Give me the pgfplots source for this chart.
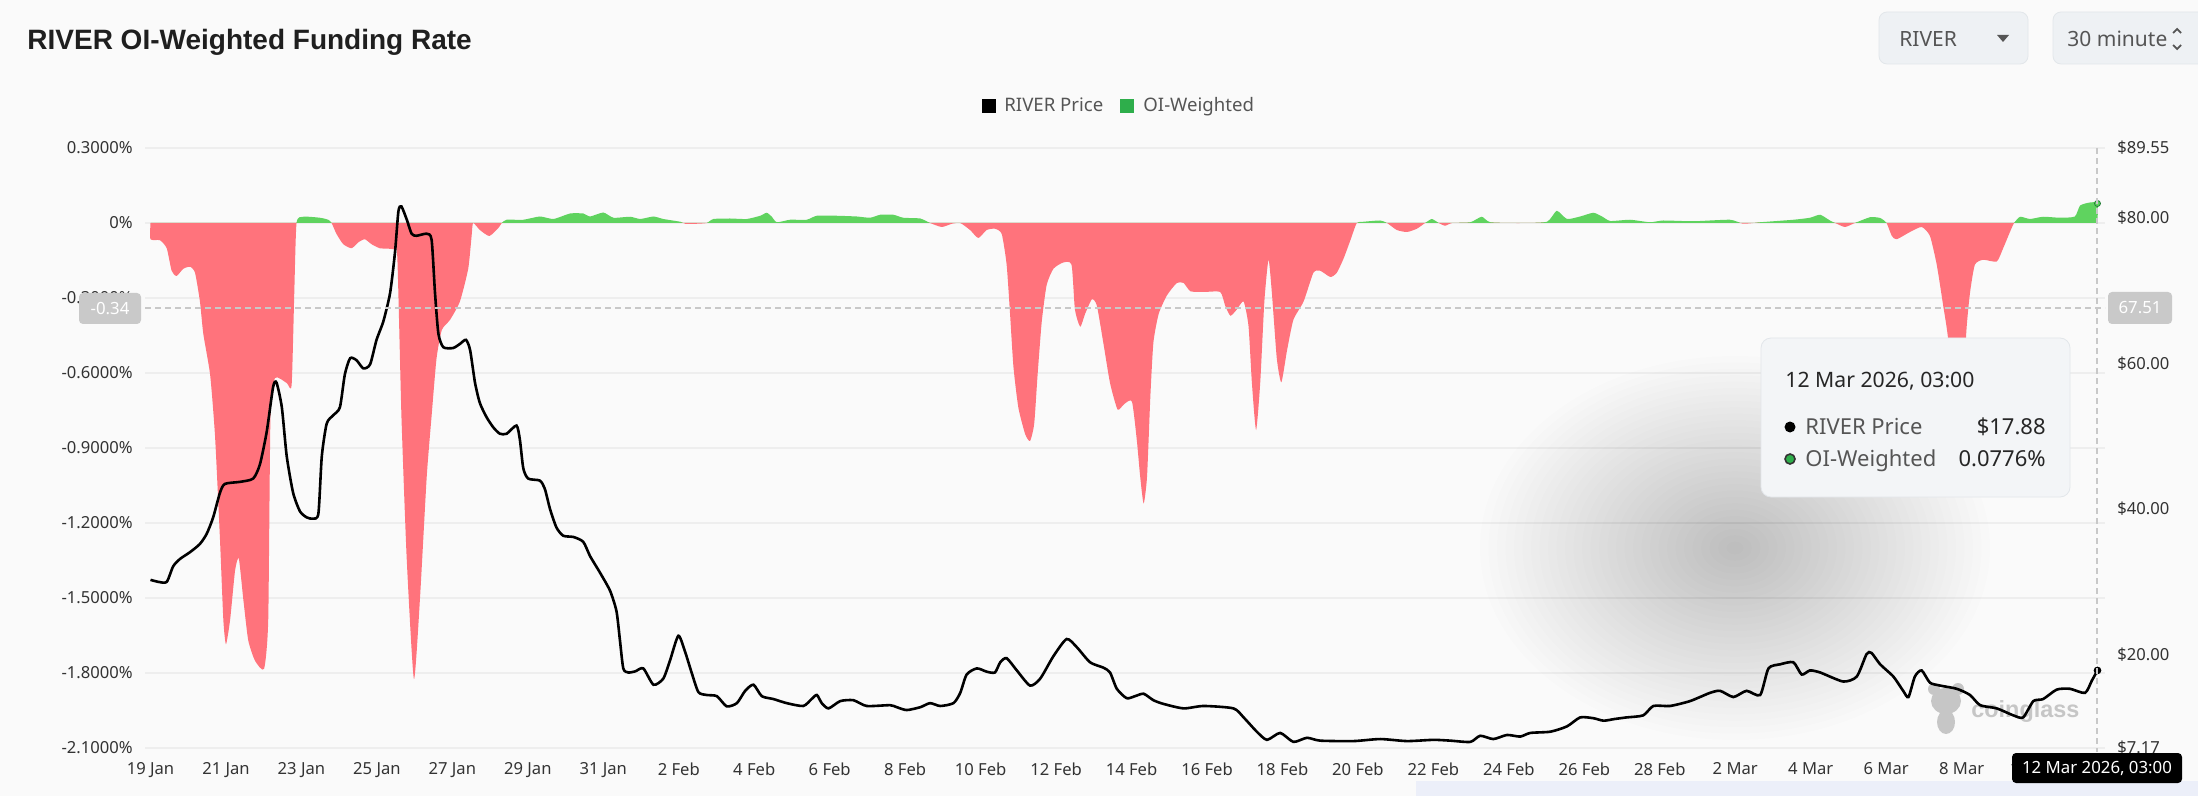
\documentclass[border=0pt]{standalone}
\usepackage{fontspec}
\setmainfont{Noto Sans}
\newfontfamily\boldsans{Liberation Sans}
\usepackage{pgfplots}
\pgfplotsset{compat=1.18}
\usepackage{pgfplotstable}

\definecolor{bgcol}{HTML}{FAFAFA}
\definecolor{gridcol}{HTML}{EEEEEE}
\definecolor{tickcol}{HTML}{333333}
\definecolor{fundred}{HTML}{FF737C}
\definecolor{fundgreen}{HTML}{5FD35F}
\definecolor{leggreen}{HTML}{2EAE4B}
\definecolor{legtext}{HTML}{555555}
\definecolor{boxfill}{HTML}{EEF1F4}
\definecolor{boxline}{HTML}{E2E6EA}
\definecolor{crossgray}{HTML}{C8C8C8}
\definecolor{markgray}{HTML}{C9C9C9}
\definecolor{wmark}{HTML}{C6C6C6}
\definecolor{bandcol}{HTML}{ECEFF9}

% day offset from 19 Jan, OI-weighted funding rate in %
\pgfplotstableread{
d f
0 0
0 -0.065
0.25 -0.069
0.43 -0.101
0.56 -0.191
0.69 -0.212
0.87 -0.183
1.05 -0.175
1.18 -0.199
1.31 -0.314
1.40 -0.444
1.58 -0.607
1.71 -0.852
1.84 -1.261
1.93 -1.587
2.00 -1.685
2.11 -1.587
2.24 -1.391
2.34 -1.342
2.46 -1.506
2.59 -1.669
2.77 -1.751
3.01 -1.783
3.12 -1.587
3.18 -0.771
3.30 -0.620
3.61 -0.640
3.74 -0.648
3.81 -0.281
3.87 0
4.05 0.025
4.49 0.021
4.71 0.013
4.80 0
4.93 -0.044
5.11 -0.085
5.33 -0.101
5.51 -0.077
5.68 -0.065
5.86 -0.085
6.08 -0.101
6.43 -0.105
6.54 -0.134
6.65 -0.771
6.79 -1.342
6.98 -1.824
7.14 -1.506
7.32 -1.016
7.45 -0.771
7.58 -0.542
7.72 -0.428
7.94 -0.387
8.20 -0.314
8.42 -0.183
8.51 -0.052
8.55 0
8.73 -0.028
8.98 -0.052
9.22 -0.020
9.31 0
9.44 0.013
9.88 0.013
10.32 0.026
10.68 0.016
11.12 0.038
11.47 0.038
11.65 0.026
12.00 0.042
12.27 0.021
12.71 0.025
12.98 0.016
13.33 0.026
13.59 0.016
14.04 0.005
14.17 -0.003
14.48 -0.003
14.74 0
14.92 0.016
15.36 0.018
15.80 0.016
16.16 0.029
16.33 0.041
16.46 0.026
16.60 0.003
16.95 0.013
17.39 0.013
17.66 0.029
18.19 0.029
18.72 0.026
19.07 0.021
19.34 0.033
19.69 0.033
19.95 0.021
20.40 0.018
20.66 0
20.97 -0.016
21.24 -0.003
21.46 0
21.72 -0.028
21.94 -0.060
22.16 -0.028
22.38 -0.023
22.56 -0.044
22.69 -0.167
22.78 -0.363
22.87 -0.575
23.00 -0.738
23.18 -0.844
23.31 -0.872
23.42 -0.803
23.51 -0.607
23.62 -0.395
23.75 -0.248
23.93 -0.183
24.19 -0.158
24.41 -0.167
24.50 -0.346
24.64 -0.415
24.77 -0.363
24.95 -0.305
25.08 -0.330
25.25 -0.477
25.43 -0.640
25.63 -0.746
25.80 -0.725
26.01 -0.714
26.14 -0.869
26.23 -1.016
26.32 -1.122
26.41 -1.016
26.50 -0.689
26.58 -0.477
26.72 -0.363
26.94 -0.289
27.20 -0.240
27.38 -0.240
27.56 -0.273
27.91 -0.276
28.35 -0.276
28.48 -0.330
28.62 -0.371
28.79 -0.346
28.97 -0.314
29.10 -0.412
29.19 -0.640
29.30 -0.828
29.41 -0.640
29.52 -0.314
29.63 -0.147
29.72 -0.281
29.85 -0.542
29.97 -0.637
30.12 -0.510
30.29 -0.387
30.56 -0.314
30.82 -0.199
31.00 -0.191
31.27 -0.216
31.44 -0.199
31.62 -0.142
31.80 -0.069
31.97 0
32.15 0.005
32.59 0.010
32.77 0
33.03 -0.028
33.30 -0.036
33.56 -0.023
33.78 0
33.96 0.016
34.14 0
34.31 -0.011
34.49 0
34.98 0.003
35.28 0.025
35.51 0.003
36.30 0
37.01 0.005
37.27 0.049
37.54 0.016
37.89 0.026
38.24 0.041
38.47 0.026
38.69 0.008
39.21 0.013
39.74 0.003
40.09 0.010
40.89 0.007
41.86 0.013
42.21 -0.003
42.66 0.003
43.54 0.013
43.98 0.021
44.25 0.033
44.51 0.010
44.69 -0.003
44.91 -0.016
45.17 0
45.57 0.023
45.84 0.020
46.01 0
46.15 -0.052
46.28 -0.065
46.63 -0.036
46.94 -0.016
47.16 -0.052
47.34 -0.167
47.51 -0.330
47.65 -0.477
47.80 -0.850
47.90 -1.000
48.02 -0.800
48.12 -0.444
48.22 -0.281
48.35 -0.167
48.57 -0.147
48.93 -0.154
49.10 -0.101
49.28 -0.036
49.39 0
49.55 0.025
49.81 0.016
50.16 0.025
50.61 0.021
51.00 0.026
51.14 0.070
51.40 0.082
51.60 0.078
51.60 0
}\funding

% day offset from 19 Jan, RIVER price in $
\pgfplotstableread{
d p
0 30.26
0.21 29.98
0.43 29.98
0.60 32.11
0.78 33.12
1.05 34.07
1.31 35.19
1.49 36.59
1.66 38.83
1.84 42.20
1.97 43.43
2.37 43.71
2.72 44.16
2.90 46.12
3.08 50.60
3.25 56.76
3.34 57.33
3.48 53.96
3.61 47.24
3.78 42.20
3.96 39.67
4.14 38.83
4.31 38.66
4.45 39.39
4.54 47.24
4.67 51.72
4.84 52.84
5.02 53.96
5.15 58.45
5.29 60.69
5.46 60.41
5.64 59.29
5.82 59.85
5.99 63.21
6.17 65.73
6.35 69.65
6.48 75.26
6.57 80.86
6.65 81.53
6.79 79.74
6.92 77.78
7.05 77.50
7.32 77.78
7.45 76.94
7.54 69.65
7.63 64.05
7.76 62.20
8.02 62.09
8.20 62.65
8.36 63.21
8.47 61.81
8.60 57.33
8.73 54.52
8.91 52.56
9.09 51.16
9.26 50.32
9.44 50.32
9.70 51.44
9.79 49.48
9.88 45.56
10.01 44.16
10.32 43.88
10.45 42.76
10.59 39.95
10.76 37.43
10.94 36.31
11.21 36.14
11.47 35.47
11.65 33.51
11.91 31.27
12.18 28.75
12.35 25.94
12.44 22.02
12.53 18.10
12.66 17.54
12.85 17.70
13.06 18.10
13.33 15.86
13.59 16.70
13.77 19.22
13.99 22.58
14.17 20.34
14.34 17.54
14.52 14.85
14.74 14.45
15.01 14.29
15.27 12.89
15.54 13.33
15.76 15.02
15.98 15.86
16.20 14.29
16.51 13.89
16.86 13.33
17.30 12.94
17.52 13.89
17.66 14.45
17.79 13.33
17.97 12.61
18.28 13.61
18.63 13.73
18.98 12.94
19.60 13.05
19.78 12.77
20.04 12.38
20.40 12.77
20.66 13.33
20.93 12.94
21.28 13.33
21.46 14.74
21.63 17.26
21.90 18.10
22.16 17.65
22.38 17.54
22.52 18.94
22.69 19.50
22.96 17.82
23.31 15.74
23.58 16.70
23.93 19.78
24.28 22.13
24.55 21.01
24.90 18.94
25.25 18.21
25.43 17.54
25.61 15.30
25.87 14.01
26.10 14.30
26.32 14.62
26.58 13.73
26.85 13.22
27.38 12.61
27.91 12.94
28.70 12.61
28.97 11.37
29.32 9.41
29.59 8.29
29.94 9.24
30.29 8.01
30.65 8.57
31.00 8.18
31.88 8.12
32.59 8.40
33.30 8.12
34.00 8.29
34.45 8.18
34.98 8.01
35.24 8.85
35.59 8.40
35.95 8.96
36.30 8.74
36.57 9.24
37.10 9.41
37.54 10.14
37.89 11.37
38.24 11.26
38.51 10.92
38.80 11.15
39.12 11.37
39.56 11.65
39.83 12.94
40.27 12.94
40.80 13.61
41.33 14.74
41.60 15.02
41.95 14.17
42.30 15.02
42.66 14.45
42.88 18.10
43.19 18.66
43.54 18.94
43.76 17.26
43.98 17.82
44.25 17.54
44.86 16.30
45.22 16.98
45.48 20.06
45.61 20.23
45.84 18.66
46.19 16.98
46.45 15.02
46.59 14.17
46.76 16.98
46.94 17.82
47.16 16.14
47.43 15.74
47.87 15.30
48.22 14.45
48.49 13.05
48.93 12.61
49.37 11.65
49.63 11.37
49.90 13.61
50.16 13.89
50.52 15.19
50.87 15.30
51.27 14.74
51.45 16.42
51.60 17.82
}\price

\begin{document}
\begin{tikzpicture}[x=0.5pt,y=-0.5pt]
\path[use as bounding box] (0,0) rectangle (2198,796);
\clip (0,0) rectangle (2198,796);
\fill[bgcol] (0,0) rectangle (2198,796);
\fill[bandcol] (1416,781) rectangle (2198,796);

% title
\node[anchor=base west, inner sep=0pt, text=black!88, font=\boldsans\fontsize{14}{16}\selectfont\bfseries]
  at (27,50) {RIVER OI-Weighted Funding Rate};

% controls top right
\draw[boxline, fill=boxfill, rounded corners=4pt] (1879,12) rectangle (2028,64);
\node[anchor=west, inner sep=0pt, text=legtext, font=\fontsize{10.5}{12}\selectfont] at (1899,39) {RIVER};
\fill[legtext] (1997,35) -- (2009,35) -- (2003,42) -- cycle;
\draw[boxline, fill=boxfill, rounded corners=4pt] (2053,12) rectangle (2215,64);
\node[anchor=west, inner sep=0pt, text=legtext, font=\fontsize{10.5}{12}\selectfont] at (2067,39) {30 minute};
\draw[legtext, line width=0.9pt] (2173,33) -- (2177,29) -- (2181,33);
\draw[legtext, line width=0.9pt] (2173,45) -- (2177,49) -- (2181,45);

% legend
\fill[black] (982,99) rectangle (996,113);
\node[anchor=base west, inner sep=0pt, text=legtext, font=\fontsize{9.3}{11}\selectfont] at (1004,112) {RIVER Price};
\fill[leggreen] (1120,99) rectangle (1134,113);
\node[anchor=base west, inner sep=0pt, text=legtext, font=\fontsize{9.3}{11}\selectfont] at (1143,112) {OI-Weighted};

% funding rate axis (left)
\begin{axis}[
  at={(72.5pt,-74pt)}, anchor=north west,
  scale only axis, width=980pt, height=300pt,
  xmin=-0.146, xmax=51.80, ymin=-2.1, ymax=0.3,
  axis line style={draw=none}, major tick length=0pt,
  xtick={0,2,...,50},
  xticklabels={19 Jan,21 Jan,23 Jan,25 Jan,27 Jan,29 Jan,31 Jan,2 Feb,4 Feb,6 Feb,8 Feb,10 Feb,12 Feb,14 Feb,16 Feb,18 Feb,20 Feb,22 Feb,24 Feb,26 Feb,28 Feb,2 Mar,4 Mar,6 Mar,8 Mar,10 Mar},
  ytick={-2.1,-1.8,-1.5,-1.2,-0.9,-0.6,-0.3,0,0.3},
  yticklabels={-2.1000\%,-1.8000\%,-1.5000\%,-1.2000\%,-0.9000\%,-0.6000\%,-0.3000\%,0\%,0.3000\%},
  ymajorgrids, grid style={draw=gridcol, line width=0.6pt},
  ticklabel style={font=\fontsize{8.3}{10}\selectfont, text=tickcol, inner sep=0pt},
  xticklabel shift=7pt, yticklabel shift=6pt,
]
\begin{scope}
  \clip (axis cs:-1,0) rectangle (axis cs:53,-2.5);
  \addplot[draw=none, fill=fundred, smooth, tension=0.35] table[x=d, y=f] {\funding};
\end{scope}
\begin{scope}
  \clip (axis cs:-1,0) rectangle (axis cs:53,0.5);
  \addplot[draw=none, fill=fundgreen, smooth, tension=0.35] table[x=d, y=f] {\funding};
\end{scope}
\addplot[only marks, mark=*, mark size=1.5pt, mark options={fill=fundgreen, draw=leggreen!70!black}]
  coordinates {(51.6,0.078)};
\end{axis}

% watermark
\fill[wmark] (1946,701) ellipse (15 and 13);
\fill[wmark] (1934,689) circle (6);
\fill[wmark] (1958,689) circle (6);
\fill[wmark] (1946,722) ellipse (9 and 12);
\node[anchor=west, inner sep=0pt, text=wmark, font=\boldsans\fontsize{11.7}{13}\selectfont\bfseries] at (1971,711) {coinglass};

% price axis (right)
\begin{axis}[
  at={(72.5pt,-74pt)}, anchor=north west,
  scale only axis, width=980pt, height=300pt,
  xmin=-0.146, xmax=51.80, ymin=7.17, ymax=89.55,
  hide x axis, axis line style={draw=none}, major tick length=0pt,
  yticklabel pos=right,
  ytick={7.17,20,40,60,80,89.55},
  yticklabels={\$7.17,\$20.00,\$40.00,\$60.00,\$80.00,\$89.55},
  ticklabel style={font=\fontsize{8.3}{10}\selectfont, text=tickcol, inner sep=0pt},
  yticklabel shift=6pt,
]
\addplot[black, line width=1.3pt, smooth, tension=0.4] table[x=d, y=p] {\price};
\addplot[only marks, mark=*, mark size=1.7pt, mark options={fill=black}] coordinates {(51.6,17.82)};
\end{axis}

% crosshair
\draw[crossgray, line width=0.6pt, dash pattern=on 3pt off 2pt] (145,308) -- (2105,308);
\draw[crossgray, line width=0.6pt, dash pattern=on 3pt off 2pt] (2097,148) -- (2097,752);

% tooltip shadow
\foreach \k in {1,...,30} {
  \fill[black, opacity=0.0075] (1735,548) ellipse ({8.5*\k} and {6.4*\k});
}
% tooltip
\draw[boxline, fill=boxfill!70!white, rounded corners=5pt] (1761,338) rectangle (2070,497);
\node[anchor=base west, inner sep=0pt, text=black!85, font=\fontsize{10.6}{12}\selectfont] at (1785,387) {12 Mar 2026, 03:00};
\fill[black] (1790,427) circle (5.5);
\node[anchor=base west, inner sep=0pt, text=legtext, font=\fontsize{11}{13}\selectfont] at (1805,434) {RIVER Price};
\node[anchor=base east, inner sep=0pt, text=black!85, font=\fontsize{11}{13}\selectfont] at (2046,434) {\$17.88};
\draw[black!80, fill=leggreen, line width=0.8pt] (1790,459) circle (5);
\node[anchor=base west, inner sep=0pt, text=legtext, font=\fontsize{11}{13}\selectfont] at (1805,466) {OI-Weighted};
\node[anchor=base east, inner sep=0pt, text=black!85, font=\fontsize{11}{13}\selectfont] at (2046,466) {0.0776\%};

% crosshair value boxes
\fill[markgray, rounded corners=2pt] (79,293) rectangle (141,324);
\node[inner sep=0pt, text=white, font=\fontsize{8.4}{10}\selectfont] at (110,308.5) {-0.34};
\fill[markgray, rounded corners=2pt] (2108,292) rectangle (2172,324);
\node[inner sep=0pt, text=white, font=\fontsize{8.4}{10}\selectfont] at (2140,308) {67.51};
\fill[black, rounded corners=2pt] (2012,753) rectangle (2182,783);
\node[inner sep=0pt, text=white, font=\fontsize{8.4}{10}\selectfont] at (2097,768) {12 Mar 2026, 03:00};
\end{tikzpicture}
\end{document}
